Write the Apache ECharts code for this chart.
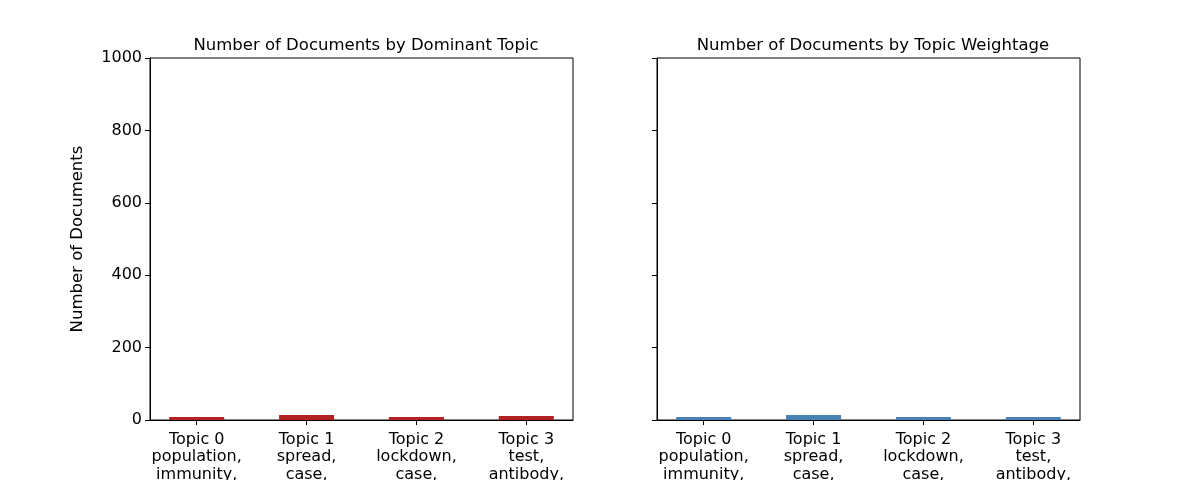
<!DOCTYPE html>
<html>
<head>
<meta charset="utf-8">
<script src="https://cdn.jsdelivr.net/npm/echarts@6/dist/echarts.min.js"></script>
<style>
  html, body { margin: 0; padding: 0; background: #fff; }
  #chart { width: 1200px; height: 480px; }
</style>
</head>
<body>
<div id="chart"></div>
<script>
// topic labels (matplotlib wraps them onto several lines)
const topicLabels = [
  "Topic 0\npopulation,\nimmunity,",
  "Topic 1\nspread,\ncase,",
  "Topic 2\nlockdown,\ncase,",
  "Topic 3\ntest,\nantibody,"
];
const topicPositions = [0, 1, 2, 3];
const dominantCounts = [8, 14, 8, 11];
const weightageCounts = [8, 14, 8, 8];
const yTicks = [0, 200, 400, 600, 800, 1000];

const font = "DejaVu Sans";
const tickSize = 16;
const titleSize = 16.5;

function xAxisFor(gridIndex) {
  return {
    type: "value",
    gridIndex: gridIndex,
    // bars of width 0.5 plus 5% margins, like matplotlib
    min: -0.425,
    max: 3.425,
    axisLine: { show: true, onZero: false, lineStyle: { color: "#000" } },
    axisTick: { show: true, customValues: topicPositions, length: 5, lineStyle: { color: "#000" } },
    axisLabel: { customValues: topicPositions, fontFamily: font, fontSize: tickSize, color: "#000",
      lineHeight: 17.5, margin: 11, formatter: (v) => topicLabels[Math.round(v)] },
    splitLine: { show: false }
  };
}

function yAxisFor(gridIndex, showLabels) {
  return {
    type: "value",
    gridIndex: gridIndex,
    min: yTicks[0],
    max: yTicks[yTicks.length - 1],
    interval: 200,
    name: showLabels ? "Number of Documents" : "",
    nameLocation: "middle",
    nameGap: 64,
    nameTextStyle: { fontFamily: font, fontSize: titleSize, color: "#000" },
    axisLine: { show: true, onZero: false, lineStyle: { color: "#000" } },
    axisTick: { show: true, length: 5, lineStyle: { color: "#000" } },
    axisLabel: { show: showLabels, fontFamily: font, fontSize: tickSize, color: "#000", margin: 8,
      formatter: (v) => String(v) },
    splitLine: { show: false }
  };
}

function barData(values) {
  return values.map((v, i) => [topicPositions[i], v]);
}

const gridBase = { top: 58, width: 423, height: 362, show: true, borderColor: "#000", borderWidth: 1,
  backgroundColor: "transparent", containLabel: false, outerBoundsMode: "none" };

const chart = echarts.init(document.getElementById("chart"), null, { renderer: "canvas" });
chart.setOption({
  animation: false,
  backgroundColor: "#fff",
  title: [
    { text: "Number of Documents by Dominant Topic", left: 361, top: 32, textAlign: "center",
      textStyle: { fontFamily: font, fontSize: titleSize, fontWeight: "normal", color: "#000" } },
    { text: "Number of Documents by Topic Weightage", left: 868, top: 32, textAlign: "center",
      textStyle: { fontFamily: font, fontSize: titleSize, fontWeight: "normal", color: "#000" } }
  ],
  grid: [
    Object.assign({ left: 150 }, gridBase),
    Object.assign({ left: 657 }, gridBase)
  ],
  xAxis: [xAxisFor(0), xAxisFor(1)],
  yAxis: [yAxisFor(0, true), yAxisFor(1, false)],
  series: [
    { type: "bar", xAxisIndex: 0, yAxisIndex: 0, data: barData(dominantCounts), barWidth: 55,
      itemStyle: { color: "#b22222" } },
    { type: "bar", xAxisIndex: 1, yAxisIndex: 1, data: barData(weightageCounts), barWidth: 55,
      itemStyle: { color: "#4682b4" } }
  ]
});
</script>
</body>
</html>
